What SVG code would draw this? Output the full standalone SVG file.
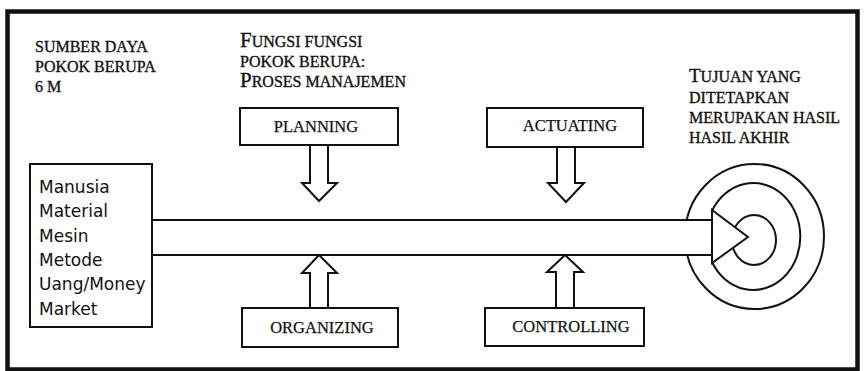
<svg xmlns="http://www.w3.org/2000/svg" width="865" height="371" viewBox="0 0 865 371">
<style>
.serif{font-family:"Liberation Serif","Times New Roman",serif;fill:#111;font-size:16px;stroke:#111;stroke-width:0.35}
.sans{font-family:"DejaVu Sans","Liberation Sans",sans-serif;fill:#111;font-size:17px}
.box{fill:#fff;stroke:#111;stroke-width:2}
.arr{fill:#fff;stroke:#111;stroke-width:2;stroke-linejoin:miter}
.ln{fill:none;stroke:#111;stroke-width:2}
.lbl{font-family:"Liberation Serif","Times New Roman",serif;fill:#111;font-size:16.5px;text-anchor:middle;stroke:#111;stroke-width:0.25}
</style>
<rect x="0" y="0" width="865" height="371" fill="#fff"/>
<rect x="7.5" y="11.5" width="850" height="358" fill="#fff" stroke="#111" stroke-width="4.5"/>

<g id="label-sumber">
<text class="serif" x="35" y="52">SUMBER DAYA</text>
<text class="serif" x="35" y="72">POKOK BERUPA</text>
<text class="serif" x="35" y="92">6 M</text>
</g>
<g id="label-fungsi">
<text class="serif" x="240" y="47"><tspan font-size="21">F</tspan>UNGSI FUNGSI</text>
<text class="serif" x="240" y="67">POKOK BERUPA:</text>
<text class="serif" x="240" y="87"><tspan font-size="21">P</tspan>ROSES MANAJEMEN</text>
</g>
<g id="label-tujuan">
<text class="serif" x="689" y="82"><tspan font-size="19">T</tspan>UJUAN YANG</text>
<text class="serif" x="689" y="103">DITETAPKAN</text>
<text class="serif" x="689" y="123">MERUPAKAN HASIL</text>
<text class="serif" x="689" y="143">HASIL AKHIR</text>
</g>

<g id="target">
<ellipse cx="754.5" cy="236.5" rx="69.5" ry="72.5" class="ln"/>
<path d="M712,211 A47,53.5 0 1 1 712,262" class="ln"/>
<ellipse cx="754" cy="240" rx="22" ry="25" class="ln"/>
</g>

<g id="connectors">
<rect x="152" y="221" width="560" height="33" fill="#fff"/>
<line x1="152" y1="220" x2="712" y2="220" class="ln"/>
<line x1="152" y1="255" x2="712" y2="255" class="ln"/>
<polygon points="712,210 748,237 712,263" class="arr"/>
<polygon points="310,145 310,183 302,183 319,201 337,183 328,183 328,145" class="arr"/>
<polygon points="557,147 557,183 548,183 566,202 584,183 575,183 575,147" class="arr"/>
<polygon points="310,308 310,273 302,273 319,255 337,273 328,273 328,308" class="arr"/>
<polygon points="556,308 556,272 547,272 565,255 583,272 574,272 574,308" class="arr"/>
</g>

<g id="node-resources">
<rect x="30" y="164" width="122" height="163" class="box" stroke-width="1.6"/>
<text class="sans" x="39" y="193">Manusia</text>
<text class="sans" x="39" y="217">Material</text>
<text class="sans" x="39" y="242">Mesin</text>
<text class="sans" x="39" y="266">Metode</text>
<text class="sans" x="39" y="290">Uang/Money</text>
<text class="sans" x="39" y="315">Market</text>
</g>

<g id="node-planning">
<rect x="240" y="108" width="158" height="37" class="box"/>
<text class="lbl" x="316" y="132">PLANNING</text>
</g>
<g id="node-actuating">
<rect x="487" y="108" width="156" height="39" class="box"/>
<text class="lbl" x="570" y="131">ACTUATING</text>
</g>
<g id="node-organizing">
<rect x="242" y="308" width="156" height="39" class="box"/>
<text class="lbl" x="322" y="333" font-size="17">ORGANIZING</text>
</g>
<g id="node-controlling">
<rect x="485" y="308" width="159" height="38" class="box"/>
<text class="lbl" x="571" y="332">CONTROLLING</text>
</g>
</svg>
